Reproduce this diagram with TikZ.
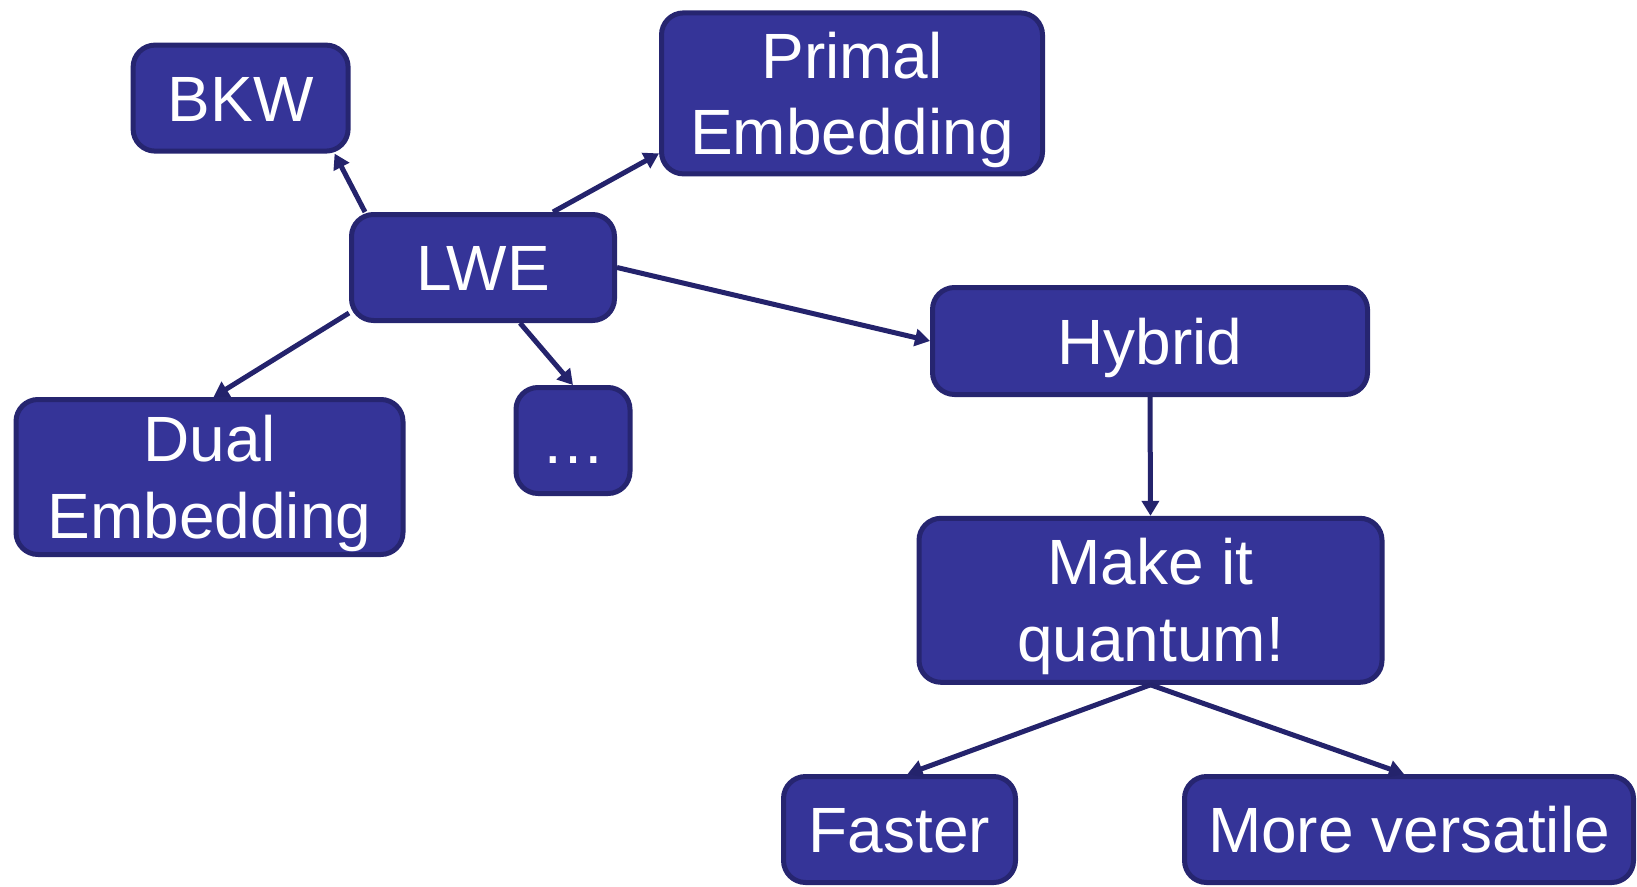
\documentclass[tikz,border=0pt]{standalone}
\usepackage{fontspec}
\setmainfont{Liberation Sans}
\usetikzlibrary{arrows.meta}
\definecolor{boxfill}{RGB}{53,52,152}
\definecolor{boxedge}{RGB}{38,37,112}
\definecolor{arrowc}{RGB}{36,35,108}
\tikzset{
  nbox/.style={draw=boxedge, fill=boxfill, line width=5pt, rounded corners=22pt,
    text=white, inner sep=0pt, align=center,
    font=\fontsize{64}{76.8}\selectfont, text height=46pt, text depth=0pt},
  twoline/.style={text height=122.8pt, text depth=0pt},
  conn/.style={draw=arrowc, line width=5pt, -{Triangle[length=15pt,width=17pt]}}
}
\begin{document}
\begin{tikzpicture}[x=1pt,y=-1pt]
\useasboundingbox (0,0) rectangle (1637,886);
\node[nbox, minimum width=215pt, minimum height=106pt] (bkw) at (240.6,98.1) {BKW};
\node[nbox, twoline, minimum width=381pt, minimum height=161pt] (primal) at (852,93.4) {Primal\\Embedding};
\node[nbox, minimum width=263pt, minimum height=106pt] (lwe) at (483,267.5) {LWE};
\node[nbox, minimum width=435pt, minimum height=107pt] (hybrid) at (1150,341) {Hybrid};
\node[nbox, twoline, minimum width=387pt, minimum height=155pt] (dual) at (209.5,477) {Dual\\Embedding};
\node[nbox, minimum width=114pt, minimum height=106pt] (dots) at (573,440.5) {\dots};
\node[nbox, twoline, minimum width=463pt, minimum height=164pt] (make) at (1150.5,600.3) {Make it\\quantum!};
\node[nbox, minimum width=232pt, minimum height=106pt] (faster) at (899.5,829.5) {Faster};
\node[nbox, minimum width=449pt, minimum height=106pt] (more) at (1409,829.5) {More versatile};

\draw[conn] ([xshift=16pt]lwe.north west) -- ([xshift=-16pt]bkw.south east);
\draw[conn] ([xshift=-64pt]lwe.north east) -- ([yshift=23pt]primal.south west);
\draw[conn] (lwe.east) -- (hybrid.west);
\draw[conn] ([xshift=37pt]lwe.south) -- (dots.north);
\draw[conn] ([yshift=10pt]lwe.south west) -- ([xshift=4pt]dual.north);
\draw[conn] (hybrid.south) -- (make.north);
\draw[conn] (make.south) -- ([xshift=8pt]faster.north);
\draw[conn] (make.south) -- ([xshift=-5pt]more.north);
\end{tikzpicture}
\end{document}
